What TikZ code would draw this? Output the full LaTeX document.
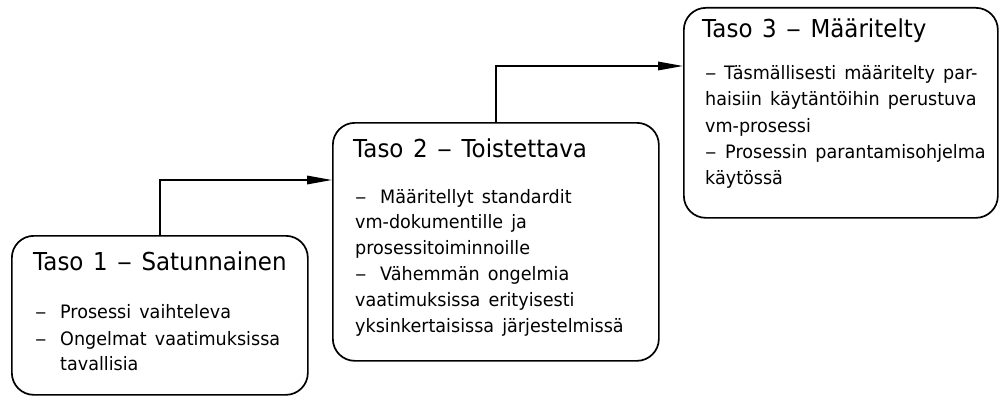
\documentclass[tikz,border=0pt]{standalone}
\usepackage{fontspec}
\setmainfont{DejaVu Sans}
\newfontfamily\titlefont{DejaVu Sans}[FakeStretch=0.93, WordSpace=1.3]
\newfontfamily\bodyfont{DejaVu Sans}[FakeStretch=0.95, WordSpace=1.45]
\newcommand{\dsh}[1]{\makebox[#1][l]{\scalebox{1.3}[1]{–}}}
\newcommand{\tdsh}{\scalebox{1.3}[1]{–}}
\usetikzlibrary{arrows.meta}
\begin{document}
\begin{tikzpicture}[x=1pt,y=-1pt,
  box/.style={draw, line width=1.7pt, rounded corners=22pt, inner sep=0pt, anchor=north west},
  ttl/.style={anchor=base west, inner sep=0pt, font=\titlefont\fontsize{24.7}{28}\selectfont},
  txt/.style={anchor=base west, inner sep=0pt, font=\bodyfont\fontsize{18.5}{22}\selectfont},
  conn/.style={line width=1.7pt, -{Triangle[length=25pt,width=8.5pt]}}]
\useasboundingbox (0,0) rectangle (999,396);
% boxes
\node[box, minimum width=296pt, minimum height=159pt] (b1) at (11,235) {};
\node[box, minimum width=326pt, minimum height=238pt] (b2) at (332,122) {};
\node[box, minimum width=314pt, minimum height=210pt] (b3) at (683,7) {};
% connectors
\coordinate (k1) at (0,180);
\coordinate (k2) at (0,66);
\draw[conn] (b1.north) |- (b2.west |- k1);
\draw[conn] (b2.north) |- (b3.west |- k2);
% box 1 text
\node[ttl] (t1) at (33,270) {Taso 1 \tdsh{} Satunnainen};
\node[txt] (t1a) at (35,318) {\dsh{25pt}Prosessi vaihteleva};
\node[txt] (t1b) at (35,345) {\dsh{25pt}Ongelmat vaatimuksissa};
\node[txt] (t1c) at (60,370) {tavallisia};
% box 2 text
\node[ttl] (t2) at (353,157) {Taso 2 \tdsh{} Toistettava};
\node[txt] (t2a) at (355,203) {\dsh{25pt}Määritellyt standardit};
\node[txt] (t2b) at (355,228.8) {vm-dokumentille ja};
\node[txt] (t2c) at (355,254.6) {prosessitoiminnoille};
\node[txt] (t2d) at (355,280.4) {\dsh{25pt}Vähemmän ongelmia};
\node[txt] (t2e) at (355,306.2) {vaatimuksissa erityisesti};
\node[txt] (t2f) at (355,332) {yksinkertaisissa järjestelmissä};
% box 3 text
\node[ttl] (t3) at (702,38) {Taso 3 \tdsh{} Määritelty};
\node[txt] (t3a) at (705,80) {\dsh{19pt}Täsmällisesti määritelty par-};
\node[txt] (t3b) at (705,106) {haisiin käytäntöihin perustuva};
\node[txt] (t3c) at (705,132) {vm-prosessi};
\node[txt] (t3d) at (705,158) {\dsh{20pt}Prosessin parantamisohjelma};
\node[txt] (t3e) at (705,184) {käytössä};
\end{tikzpicture}
\end{document}
